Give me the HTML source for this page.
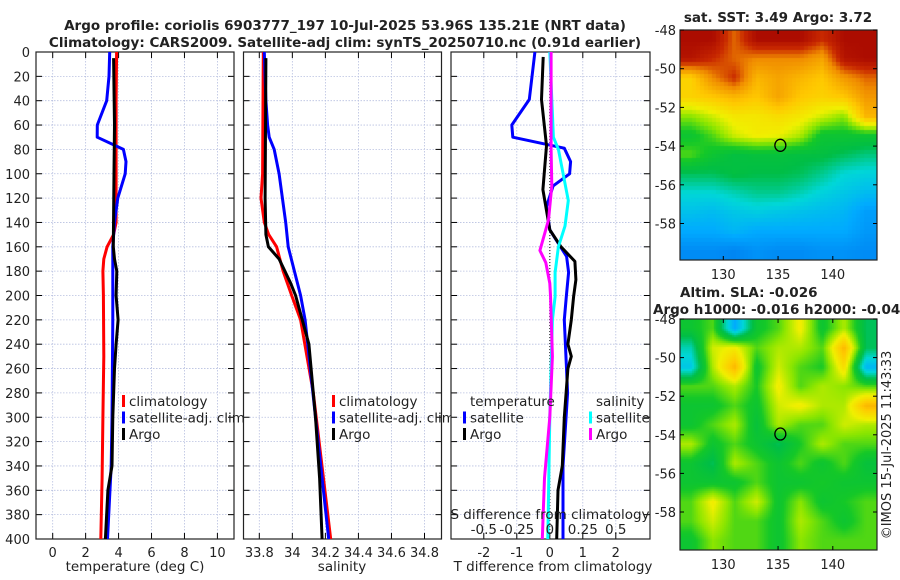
<!DOCTYPE html>
<html><head><meta charset="utf-8">
<style>
body{margin:0;background:#fff;}
#wrap{position:relative;width:900px;height:580px;overflow:hidden;font-family:"DejaVu Sans","Liberation Sans",sans-serif;}
canvas{position:absolute;}
svg{position:absolute;left:0;top:0;}
text{font-family:"DejaVu Sans","Liberation Sans",sans-serif;fill:#222;}
</style></head>
<body>
<div id="wrap">
<canvas id="sstMap" width="197" height="230" style="left:680px;top:30px;width:197px;height:230px"></canvas>
<canvas id="slaMap" width="197" height="231" style="left:680px;top:319px;width:197px;height:231px"></canvas>
<svg id="fig" width="900" height="580" xmlns="http://www.w3.org/2000/svg"></svg>
</div>
<script>
// ---------- data ----------
const tickDepths=[0,20,40,60,80,100,120,140,160,180,200,220,240,260,280,300,320,340,360,380,400];
const tempTicks=[0,2,4,6,8,10];
const salTicks=[33.8,34,34.2,34.4,34.6,34.8];
const salTickLabels=["33.8","34","34.2","34.4","34.6","34.8"];
const diffTicks=[-2,-1,0,1,2];
const sDiffTickLabels=["-0.5","-0.25","0","0.25","0.5"];
const sDiffTicks=[-0.5,-0.25,0,0.25,0.5];

const climTDepth=[0,40,100,140,150,160,170,180,200,250,300,350,400];
const climT=[3.88,3.85,3.85,3.85,3.7,3.3,3.1,3.05,3.08,3.1,3.05,3.0,2.92];
const satTDepth=[0,20,40,60,70,80,90,100,120,140,160,200,220,300,340,400];
const satT=[3.46,3.42,3.28,2.71,2.7,4.29,4.45,4.4,3.95,3.75,3.65,3.65,3.65,3.6,3.55,3.33];
const argoTDepth=[5,60,100,160,170,180,200,220,240,260,300,340,360,400];
const argoT=[3.7,3.75,3.72,3.68,3.75,3.89,3.85,3.97,3.85,3.75,3.65,3.6,3.35,3.2];

const climSDepth=[0,100,120,140,150,160,180,200,220,280,400];
const climS=[33.824,33.82,33.81,33.83,33.857,33.905,33.944,33.996,34.05,34.127,34.232];
const satSDepth=[0,40,60,70,80,100,140,160,200,220,300,400];
const satS=[33.83,33.84,33.85,33.86,33.89,33.92,33.96,33.975,34.05,34.077,34.14,34.22];
const argoSDepth=[5,120,150,160,170,190,200,240,300,350,400];
const argoS=[33.84,33.835,33.84,33.855,33.92,33.99,34.02,34.1,34.14,34.165,34.18];

const dTDepthSat=[0,39,60,70,79,90,100,110,127,146,168,181,201,220,280,340,400];
const dTSat=[-0.45,-0.62,-1.15,-1.12,0.44,0.63,0.6,0.1,-0.1,0,0.51,0.57,0.5,0.44,0.54,0.4,0.4];
const dTDepthArgo=[4,39,77,113,146,160,172,187,201,220,240,250,260,300,340,360,400];
const dTArgo=[-0.2,-0.25,-0.1,-0.21,0,0.34,0.76,0.79,0.72,0.65,0.55,0.65,0.55,0.44,0.38,0.25,0.21];
const dSDepthSat=[0,70,80,122,143,160,181,201,220,300,400];
const dSSat=[0,0.027,0.065,0.14,0.115,0.065,0.04,0.04,0.02,0,-0.015];
const dSDepthArgo=[0,80,110,138,163,173,190,200,250,300,350,400];
const dSArgo=[0.01,0.01,0.015,-0.01,-0.075,-0.03,0,0.005,0.02,0,-0.04,-0.057];

const mapLonTicks=[130,135,140];
const sstLatTicks=[-48,-50,-52,-54,-56,-58];
const slaLatTicks=[-48,-50,-52,-54,-56,-58];
const sstGrid=[
[0.97,0.97,0.85,0.97,0.97,0.97,0.9,0.97,0.97],
[0.95,0.9,0.85,0.82,0.82,0.82,0.78,0.95,0.97],
[0.7,0.82,0.9,0.75,0.78,0.75,0.72,0.8,0.85],
[0.7,0.72,0.75,0.72,0.78,0.72,0.7,0.72,0.8],
[0.58,0.62,0.66,0.66,0.68,0.66,0.62,0.58,0.75],
[0.5,0.55,0.62,0.65,0.64,0.6,0.5,0.5,0.5],
[0.55,0.5,0.47,0.48,0.48,0.47,0.47,0.45,0.43],
[0.45,0.45,0.47,0.46,0.46,0.45,0.42,0.38,0.37],
[0.38,0.38,0.4,0.42,0.42,0.4,0.37,0.35,0.33],
[0.34,0.33,0.35,0.36,0.35,0.34,0.33,0.32,0.28],
[0.3,0.3,0.32,0.3,0.3,0.3,0.3,0.3,0.27],
[0.25,0.25,0.24,0.26,0.25,0.25,0.26,0.26,0.25]];
const slaGrid=[
[0.5,0.55,0.3,0.5,0.55,0.65,0.5,0.6,0.45],
[0.4,0.62,0.65,0.55,0.6,0.6,0.55,0.75,0.45],
[0.35,0.6,0.75,0.5,0.62,0.55,0.52,0.68,0.32],
[0.55,0.55,0.6,0.52,0.65,0.55,0.6,0.58,0.55],
[0.5,0.5,0.55,0.5,0.62,0.65,0.6,0.6,0.75],
[0.5,0.55,0.6,0.48,0.6,0.55,0.55,0.62,0.6],
[0.6,0.5,0.55,0.5,0.45,0.52,0.6,0.55,0.55],
[0.5,0.45,0.6,0.55,0.5,0.55,0.5,0.55,0.48],
[0.5,0.5,0.5,0.55,0.5,0.5,0.52,0.5,0.5],
[0.55,0.65,0.55,0.62,0.5,0.58,0.5,0.52,0.55],
[0.55,0.62,0.55,0.55,0.5,0.6,0.55,0.5,0.55],
[0.5,0.58,0.55,0.55,0.5,0.58,0.55,0.55,0.55]];

// ---------- helpers ----------
const NS="http://www.w3.org/2000/svg";
const svg=document.getElementById('fig');
function mk(tag,attrs,parent){const e=document.createElementNS(NS,tag);for(const k in attrs)e.setAttribute(k,attrs[k]);(parent||svg).appendChild(e);return e;}
function txt(x,y,s,size,anchor,weight){const t=mk('text',{x:x,y:y,'font-size':size||13,'text-anchor':anchor||'middle','font-weight':weight||'normal'});t.textContent=s;return t;}
const top0=52,bot0=539;
const yD=d=>top0+d*(bot0-top0)/400;

function panel(name,x0,x1,xs,ticks,labels,showY){
  mk('rect',{x:x0,y:top0,width:x1-x0,height:bot0-top0,fill:'#fff'});
  const g=mk('g',{});
  
  
  tickDepths.forEach(d=>{mk('line',{x1:x0,x2:x1,y1:yD(d),y2:yD(d),stroke:'#b8c0e0','stroke-width':0.8,'stroke-dasharray':'1.5,1.5'},g);
    mk('line',{x1:x0,x2:x0+6,y1:yD(d),y2:yD(d),stroke:'#000'},g);
    mk('line',{x1:x1-6,x2:x1,y1:yD(d),y2:yD(d),stroke:'#000'},g);
    if(showY){const t=txt(x0-6,yD(d)+5,String(d),13,'end');}});
  ticks.forEach((v,i)=>{const x=xs(v);
    mk('line',{x1:x,x2:x,y1:top0,y2:bot0,stroke:'#b8c0e0','stroke-width':0.8,'stroke-dasharray':'1.5,1.5'},g);
    mk('line',{x1:x,x2:x,y1:bot0,y2:bot0-6,stroke:'#000'},g);
    mk('line',{x1:x,x2:x,y1:top0,y2:top0+6,stroke:'#000'},g);
    const t=txt(x,bot0+18,labels[i],13);});
  const fr=mk('rect',{x:x0,y:top0,width:x1-x0,height:bot0-top0,fill:'none',stroke:'#222','stroke-width':1.2});
  
}
function line(name,depths,vals,xs,color,w){
  const pts=depths.map((d,i)=>xs(vals[i]).toFixed(1)+','+yD(d).toFixed(1)).join(' ');
  const p=mk('polyline',{points:pts,fill:'none',stroke:color,'stroke-width':w||3,'stroke-linejoin':'round'});
  
}
function legend(name,x,y,items){
  items.forEach((it,i)=>{
    mk('rect',{x:x-7,y:y+i*16.5-11,width:3,height:12,fill:it[1]});
    const t=txt(x,y+i*16.5,it[0],13.5,'start');
    
  });
}

// titles
let t=txt(345,30,'Argo profile: coriolis 6903777_197 10-Jul-2025 53.96S 135.21E (NRT data)',13.5,'middle','bold');

t=txt(345,47,'Climatology: CARS2009. Satellite-adj clim: synTS_20250710.nc (0.91d earlier)',13.5,'middle','bold');


// panel 1 temperature
const xT=v=>52.7+v*16.47;
panel('temperature-panel',36,234,xT,tempTicks,tempTicks.map(String),true);
line('climatology-temperature-line',climTDepth,climT,xT,'#f00');
line('satellite-temperature-line',satTDepth,satT,xT,'#00f');
line('argo-temperature-line',argoTDepth,argoT,xT,'#000');
legend('temperature-legend',129,406,[['climatology','#f00'],['satellite-adj. clim','#00f'],['Argo','#000']]);
t=txt(135,571,'temperature (deg C)',13.5);

// panel 2 salinity
const xS=v=>259.3+(v-33.8)*165.2;
panel('salinity-panel',243.5,441.5,xS,salTicks,salTickLabels,false);
line('climatology-salinity-line',climSDepth,climS,xS,'#f00');
line('satellite-salinity-line',satSDepth,satS,xS,'#00f');
line('argo-salinity-line',argoSDepth,argoS,xS,'#000');
legend('salinity-legend',339,406,[['climatology','#f00'],['satellite-adj. clim','#00f'],['Argo','#000']]);
t=txt(342,571,'salinity',13.5);

// panel 3 differences
const xD=v=>549.8+v*33;
const xDS=v=>549.8+v*132;
panel('difference-panel',451,650,xD,diffTicks,diffTicks.map(String),false);
const z=mk('line',{x1:xD(0),x2:xD(0),y1:top0,y2:bot0,stroke:'#333','stroke-width':1.2,'stroke-dasharray':'1,2'});

line('satellite-t-diff-line',dTDepthSat,dTSat,xD,'#00f');
line('argo-t-diff-line',dTDepthArgo,dTArgo,xD,'#000');
line('satellite-s-diff-line',dSDepthSat,dSSat,xDS,'#0ff');
line('argo-s-diff-line',dSDepthArgo,dSArgo,xDS,'#f0f');
t=txt(470,406,'temperature',13.5,'start');
legend('t-diff-legend',470,422.5,[['satellite','#00f'],['Argo','#000']]);
t=txt(596,406,'salinity',13.5,'start');
legend('s-diff-legend',596,422.5,[['satellite','#0ff'],['Argo','#f0f']]);
t=txt(550,519,'S difference from climatology',13.5);
sDiffTicks.forEach((v,i)=>{const e=txt(xDS(v),534,sDiffTickLabels[i],13.5);});
t=txt(553,571,'T difference from climatology',13.5);

// ---------- maps ----------
const stops=[[0,[0,50,190]],[0.2,[0,110,235]],[0.3,[0,170,255]],[0.38,[0,215,215]],[0.46,[0,190,70]],[0.52,[20,200,40]],[0.58,[140,230,0]],[0.64,[240,240,0]],[0.72,[255,200,0]],[0.82,[240,140,0]],[0.9,[200,40,0]],[1,[160,0,0]]];
function cmap(v){for(let i=1;i<stops.length;i++){if(v<=stops[i][0]){const a=stops[i-1],b=stops[i],f=(v-a[0])/(b[0]-a[0]);return a[1].map((c,k)=>Math.round(c+(b[1][k]-c)*f));}}return stops[stops.length-1][1];}
function drawMap(id,grid,blocky){
  const rows=grid.length,cols=grid[0].length;
  const cv=document.getElementById(id);const ctx=cv.getContext('2d');
  const W=cv.width,H=cv.height;
  const cell=blocky?4:2;
  function val(px,py){
    const gx=Math.min(Math.max(px/W*cols-0.5,0),cols-1), gy=Math.min(Math.max(py/H*rows-0.5,0),rows-1);
    const x0=Math.floor(gx),y0=Math.floor(gy),x1=Math.min(x0+1,cols-1),y1=Math.min(y0+1,rows-1);
    const fx=gx-x0,fy=gy-y0;
    return grid[y0][x0]*(1-fx)*(1-fy)+grid[y0][x1]*fx*(1-fy)+grid[y1][x0]*(1-fx)*fy+grid[y1][x1]*fx*fy;
  }
  for(let y=0;y<H;y+=cell){for(let x=0;x<W;x+=cell){
    const c=cmap(val(x+cell/2,y+cell/2));
    ctx.fillStyle='rgb('+c[0]+','+c[1]+','+c[2]+')';
    ctx.fillRect(x,y,cell,cell);
  }}
}
drawMap('sstMap',sstGrid,true);
drawMap('slaMap',slaGrid,false);

const xLon=l=>723.3+(l-130)*10.95;
function mapAxes(name,y0,y1,latTop,pxPerDeg,latTicks){
  const yLat=l=>y0+(latTop-l)*pxPerDeg;
  const fr=mk('rect',{x:680,y:y0,width:197,height:y1-y0,fill:'none',stroke:'#222','stroke-width':1.2});
  
  latTicks.forEach(l=>{mk('line',{x1:680,x2:684,y1:yLat(l),y2:yLat(l),stroke:'#000'});mk('line',{x1:873,x2:877,y1:yLat(l),y2:yLat(l),stroke:'#000'});
    const e=txt(676,yLat(l)+5,String(l),13,'end');});
  mapLonTicks.forEach(l=>{mk('line',{x1:xLon(l),x2:xLon(l),y1:y1,y2:y1-4,stroke:'#000'});mk('line',{x1:xLon(l),x2:xLon(l),y1:y0,y2:y0+4,stroke:'#000'});
    const e=txt(xLon(l),y1+19,String(l),13);});
  const c=mk('ellipse',{cx:xLon(135.21),cy:yLat(-53.96),rx:5.5,ry:6,fill:'none',stroke:'#000','stroke-width':1.3});
  
}
mapAxes('sst-map',30,260,-48,19.35,sstLatTicks);
mapAxes('sla-map',319,550,-48,19.3,slaLatTicks);
t=txt(778,22,'sat. SST: 3.49 Argo: 3.72',13.5,'middle','bold');
t=txt(680,297,'Altim. SLA: -0.026',13.5,'start','bold');
t=txt(653,314,'Argo h1000: -0.016 h2000: -0.043',13.5,'start','bold');
t=txt(0,0,'©IMOS 15-Jul-2025 11:43:33',13,'middle');
t.setAttribute('transform','translate(891,445) rotate(-90)');

</script>
</body></html>
